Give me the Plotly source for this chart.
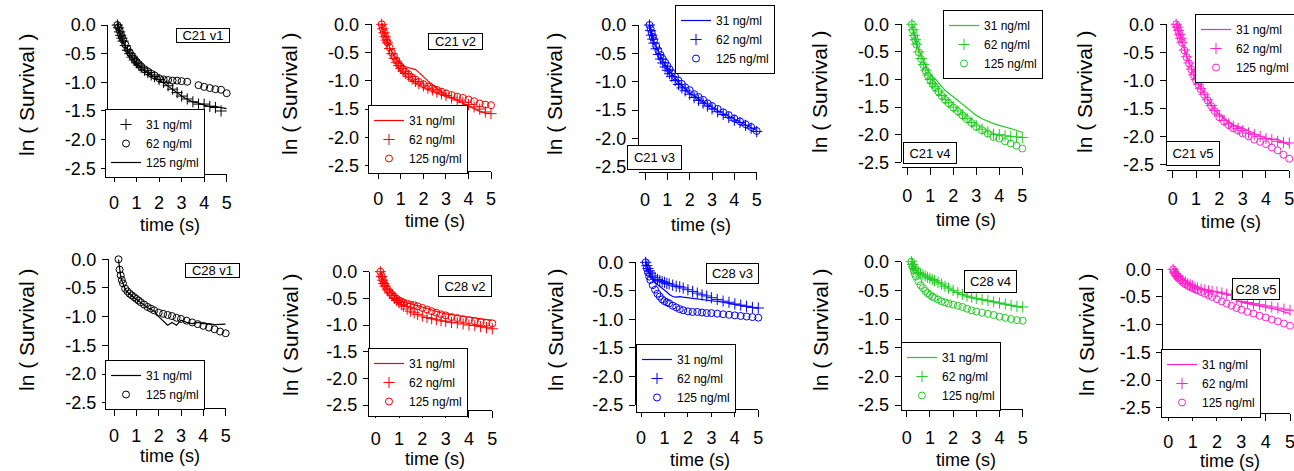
import plotly.graph_objects as go

W, H = 1294, 471

# ---------------- data ----------------
t_grid = [0.15, 0.2, 0.25, 0.3, 0.35, 0.4, 0.5, 0.6, 0.7, 0.8, 0.9, 1.0, 1.1, 1.2, 1.35, 1.5,
          1.65, 1.8, 2.0, 2.2, 2.4, 2.6, 2.8, 3.0, 3.25, 3.5, 3.75, 4.0, 4.25, 4.5, 4.75, 5.0]

ytick_vals = [0.0, -0.5, -1.0, -1.5, -2.0, -2.5]
ytick_text = ["0.0", "-0.5", "-1.0", "-1.5", "-2.0", "-2.5"]
xtick_vals = [0, 1, 2, 3, 4, 5]
xtick_text = ["0", "1", "2", "3", "4", "5"]

conc_labels = ["31 ng/ml", "62 ng/ml", "125 ng/ml"]
panel_names = ["C21 v1", "C21 v2", "C21 v3", "C21 v4", "C21 v5",
               "C28 v1", "C28 v2", "C28 v3", "C28 v4", "C28 v5"]
x_title = "time (s)"
y_title = "ln ( Survival )"

# C21 v1 (black)
c21v1_31 = [0, -0.05, -0.12, -0.18, -0.23, -0.28, -0.36, -0.44, -0.5, -0.56, -0.61, -0.66, -0.7, -0.74, -0.79, -0.83,
            -0.87, -0.9, -0.95, -1.0, -1.06, -1.12, -1.18, -1.24, -1.29, -1.34, -1.38, -1.38, -1.42, -1.44, -1.5, None]
c21v1_62 = [0, -0.04, -0.1, -0.16, -0.21, -0.26, -0.34, -0.42, -0.48, -0.54, -0.59, -0.64, -0.68, -0.72, -0.77, -0.81,
            -0.85, -0.88, -0.93, -0.95, -0.96, -0.97, -0.97, -0.98, -0.99, None, -1.05, -1.08, -1.1, -1.12, -1.13, -1.19]
c21v1_125 = [0, -0.06, -0.13, -0.19, -0.24, -0.29, -0.37, -0.45, -0.51, -0.57, -0.62, -0.67, -0.71, -0.75, -0.8, -0.84,
             -0.88, -0.91, -0.96, -1.01, -1.07, -1.13, -1.19, -1.24, -1.3, -1.34, -1.36, -1.4, -1.42, -1.42, -1.44, -1.46]
# C21 v2 (red)
c21v2_31 = [0, -0.06, -0.13, -0.2, -0.26, -0.31, -0.4, -0.48, -0.55, -0.61, -0.66, -0.7, -0.73, -0.75, -0.77, -0.78,
            -0.8, -0.85, -0.93, -1.0, -1.07, -1.13, -1.2, -1.25, -1.3, -1.35, -1.4, -1.45, -1.5, -1.54, -1.57, -1.58]
c21v2_62 = [0, -0.08, -0.15, -0.22, -0.28, -0.33, -0.43, -0.52, -0.6, -0.67, -0.73, -0.78, -0.83, -0.87, -0.92, -0.97,
            -1.01, -1.05, -1.09, -1.13, -1.16, -1.2, -1.23, -1.26, -1.3, -1.34, -1.38, -1.42, -1.46, -1.5, -1.55, -1.58]
c21v2_125 = [0, -0.07, -0.14, -0.21, -0.27, -0.32, -0.41, -0.5, -0.57, -0.64, -0.7, -0.75, -0.8, -0.84, -0.89, -0.94,
             -0.98, -1.02, -1.06, -1.1, -1.13, -1.16, -1.19, -1.22, -1.25, -1.28, -1.3, -1.33, -1.36, -1.4, -1.42, -1.43]
# C21 v3 (blue)
c21v3_31 = [None, 0, -0.08, -0.16, -0.23, -0.29, -0.39, -0.48, -0.56, -0.63, -0.7, -0.76, -0.82, -0.88, -0.95, -1.02,
            -1.08, -1.13, -1.2, -1.26, -1.31, -1.36, -1.41, -1.46, -1.51, -1.56, -1.61, -1.66, -1.71, -1.76, -1.81, -1.86]
c21v3_62 = [None, 0, -0.1, -0.18, -0.25, -0.32, -0.42, -0.52, -0.6, -0.67, -0.74, -0.8, -0.86, -0.91, -0.98, -1.05,
            -1.11, -1.16, -1.22, -1.28, -1.33, -1.38, -1.43, -1.48, -1.53, -1.58, -1.63, -1.68, -1.72, -1.77, -1.82, -1.88]
c21v3_125 = [None, 0, -0.07, -0.14, -0.21, -0.27, -0.37, -0.45, -0.53, -0.6, -0.66, -0.72, -0.78, -0.84, -0.91, -0.98,
             -1.04, -1.1, -1.15, -1.22, -1.27, -1.32, -1.38, -1.43, -1.48, -1.54, -1.59, -1.65, -1.7, -1.75, -1.8, -1.87]
# C21 v4 (green)
c21v4_31 = [None, 0, -0.09, -0.18, -0.26, -0.33, -0.46, -0.57, -0.67, -0.76, -0.84, -0.9, -0.95, -0.98, -1.06, -1.13,
            -1.2, -1.25, -1.31, -1.38, -1.45, -1.52, -1.59, -1.65, -1.71, -1.76, -1.8, -1.83, -1.86, -1.88, -1.92, -1.96]
c21v4_62 = [None, 0, -0.1, -0.2, -0.28, -0.36, -0.5, -0.62, -0.73, -0.83, -0.92, -1.0, -1.07, -1.13, -1.21, -1.29,
            -1.36, -1.42, -1.5, -1.57, -1.64, -1.71, -1.78, -1.84, -1.9, -1.95, -1.99, -2.0, -2.02, -2.03, -2.04, -2.05]
c21v4_125 = [None, 0, -0.11, -0.21, -0.29, -0.37, -0.51, -0.63, -0.74, -0.84, -0.93, -1.01, -1.08, -1.14, -1.22, -1.3,
             -1.37, -1.43, -1.51, -1.58, -1.65, -1.72, -1.79, -1.86, -1.92, -1.98, -2.04, -2.07, -2.12, -2.16, -2.2, -2.25]
# C21 v5 (magenta)
c21v5_31 = [0, -0.04, -0.1, -0.17, -0.24, -0.31, -0.45, -0.57, -0.68, -0.79, -0.89, -0.98, -1.06, -1.14, -1.24, -1.34,
            -1.44, -1.53, -1.62, -1.69, -1.75, -1.8, -1.82, -1.85, -1.9, -1.95, -2.0, -2.03, -2.05, -2.05, -2.1, -2.16]
c21v5_62 = [0, -0.05, -0.11, -0.18, -0.25, -0.32, -0.46, -0.58, -0.69, -0.8, -0.9, -0.99, -1.07, -1.15, -1.25, -1.35,
            -1.45, -1.54, -1.64, -1.72, -1.78, -1.82, -1.86, -1.9, -1.94, -1.97, -2.0, -2.04, -2.06, -2.09, -2.11, -2.12]
c21v5_125 = [0, -0.05, -0.12, -0.19, -0.26, -0.33, -0.47, -0.59, -0.7, -0.81, -0.91, -1.0, -1.08, -1.16, -1.26, -1.36,
             -1.46, -1.55, -1.66, -1.74, -1.8, -1.86, -1.9, -1.95, -2.0, -2.06, -2.1, -2.14, -2.2, -2.25, -2.33, -2.4]
# C28 v1 (black)
c28v1_31 = [None, 0, -0.2, -0.3, -0.37, -0.43, -0.52, -0.57, -0.61, -0.64, -0.67, -0.7, -0.73, -0.76, -0.8, -0.84,
            -0.87, -0.9, -1.0, -1.08, -1.15, -1.1, -1.15, -1.06, -1.1, -1.12, -1.1, -1.12, -1.12, -1.14, -1.13, -1.13]
c28v1_125 = [None, 0, -0.18, -0.28, -0.36, -0.42, -0.51, -0.56, -0.6, -0.63, -0.66, -0.69, -0.72, -0.75, -0.79, -0.83,
             -0.86, -0.89, -0.93, -0.95, -0.97, -0.99, -1.02, -1.04, -1.07, -1.1, -1.13, -1.16, -1.19, -1.22, -1.26, -1.29]
# C28 v2 (red)
c28v2_31 = [None, 0, -0.07, -0.14, -0.2, -0.25, -0.32, -0.37, -0.42, -0.46, -0.5, -0.53, -0.55, -0.57, -0.59, -0.6,
            -0.62, -0.64, -0.67, -0.7, -0.72, -0.75, -0.77, -0.79, -0.81, -0.83, -0.84, -0.85, -0.87, -0.88, -0.9, -0.91]
c28v2_62 = [None, 0, -0.09, -0.16, -0.22, -0.27, -0.34, -0.4, -0.45, -0.5, -0.54, -0.58, -0.62, -0.65, -0.7, -0.74,
            -0.77, -0.8, -0.83, -0.86, -0.88, -0.9, -0.92, -0.93, -0.95, -0.96, -0.98, -1.0, -1.01, -1.03, -1.05, -1.07]
c28v2_125 = [None, 0, -0.08, -0.15, -0.21, -0.26, -0.33, -0.38, -0.43, -0.47, -0.51, -0.54, -0.56, -0.58, -0.6, -0.62,
             -0.63, -0.65, -0.68, -0.71, -0.74, -0.77, -0.8, -0.82, -0.85, -0.87, -0.89, -0.91, -0.93, -0.95, -0.96, -0.97]
# C28 v3 (blue)
c28v3_31 = [None, 0, -0.08, -0.14, -0.19, -0.23, -0.3, -0.35, -0.39, -0.42, -0.45, -0.48, -0.52, -0.56, -0.6, -0.61,
            -0.6, -0.61, -0.62, -0.63, -0.64, -0.65, -0.66, -0.67, -0.68, -0.7, -0.72, -0.74, -0.76, -0.78, -0.8, -0.81]
c28v3_62 = [None, 0, -0.06, -0.11, -0.15, -0.19, -0.24, -0.27, -0.3, -0.32, -0.34, -0.35, -0.37, -0.38, -0.4, -0.42,
            -0.43, -0.45, -0.48, -0.51, -0.54, -0.57, -0.59, -0.62, -0.65, -0.68, -0.7, -0.73, -0.75, -0.77, -0.79, -0.8]
c28v3_125 = [None, 0, -0.1, -0.18, -0.25, -0.31, -0.4, -0.48, -0.55, -0.6, -0.65, -0.68, -0.7, -0.72, -0.76, -0.79,
             -0.82, -0.84, -0.86, -0.87, -0.87, -0.88, -0.89, -0.89, -0.9, -0.91, -0.92, -0.93, -0.94, -0.95, -0.96, -0.97]
# C28 v4 (green)
c28v4_31 = [None, 0, -0.04, -0.08, -0.11, -0.14, -0.18, -0.2, -0.22, -0.24, -0.26, -0.28, -0.3, -0.32, -0.35, -0.38,
            -0.42, -0.46, -0.51, -0.55, -0.58, -0.61, -0.63, -0.65, -0.67, -0.69, -0.71, -0.73, -0.75, -0.77, -0.79, -0.8]
c28v4_62 = [None, 0, -0.05, -0.09, -0.12, -0.15, -0.19, -0.21, -0.23, -0.25, -0.27, -0.29, -0.31, -0.33, -0.36, -0.39,
            -0.43, -0.46, -0.5, -0.54, -0.57, -0.6, -0.62, -0.64, -0.66, -0.68, -0.7, -0.72, -0.74, -0.76, -0.78, -0.79]
c28v4_125 = [None, 0, -0.08, -0.15, -0.21, -0.26, -0.34, -0.41, -0.46, -0.51, -0.55, -0.58, -0.61, -0.63, -0.66, -0.69,
             -0.71, -0.73, -0.75, -0.77, -0.79, -0.82, -0.85, -0.87, -0.89, -0.91, -0.93, -0.96, -0.98, -1.0, -1.02, -1.03]
# C28 v5 (magenta)
c28v5_31 = [None, 0, -0.04, -0.07, -0.1, -0.12, -0.16, -0.19, -0.22, -0.25, -0.27, -0.29, -0.31, -0.33, -0.35, -0.36,
            -0.38, -0.39, -0.41, -0.42, -0.44, -0.47, -0.53, -0.6, -0.62, -0.64, -0.66, -0.68, -0.71, -0.73, -0.77, -0.8]
c28v5_62 = [None, 0, -0.05, -0.08, -0.11, -0.13, -0.17, -0.2, -0.23, -0.26, -0.28, -0.3, -0.32, -0.34, -0.36, -0.37,
            -0.39, -0.4, -0.41, -0.43, -0.45, -0.47, -0.52, -0.58, -0.6, -0.62, -0.64, -0.66, -0.68, -0.7, -0.72, -0.74]
c28v5_125 = [None, 0, -0.05, -0.09, -0.13, -0.16, -0.2, -0.24, -0.27, -0.3, -0.32, -0.34, -0.36, -0.38, -0.41, -0.44,
             -0.47, -0.5, -0.54, -0.58, -0.62, -0.66, -0.7, -0.73, -0.77, -0.8, -0.84, -0.87, -0.91, -0.94, -0.98, -1.02]

BLACK, RED, BLUE, GREEN, MAGENTA = "#000000", "#ff0000", "#0000ff", "#22cc22", "#ff22cc"
FONT = "Arial, Liberation Sans, sans-serif"

# ---------------- layout table (pixel geometry) ----------------
# geom: (px of x=0, px of x=5, py of y=0, py of y=-2.5, py of x-axis line, px of y-axis line)
panels = [
    dict(name=panel_names[0], color=BLACK,
         series=[(conc_labels[0], c21v1_31, "plus"), (conc_labels[1], c21v1_62, "circle"), (conc_labels[2], c21v1_125, "line")],
         geom=(114, 226.7, 25, 168.3, 174, 108.3), legend=(105, 109), note=(203, 35.5, 54, 15),
         ylab=(27, 95), xlab=(170, 225)),
    dict(name=panel_names[1], color=RED,
         series=[(conc_labels[0], c21v2_31, "line"), (conc_labels[1], c21v2_62, "plus"), (conc_labels[2], c21v2_125, "circle")],
         geom=(378.3, 491, 24.3, 165.7, 170.7, 371.7), legend=(368, 105), note=(455.5, 41.5, 55, 17),
         ylab=(290, 94), xlab=(435, 221)),
    dict(name=panel_names[2], color=BLUE,
         series=[(conc_labels[0], c21v3_31, "line"), (conc_labels[1], c21v3_62, "plus"), (conc_labels[2], c21v3_125, "circle")],
         geom=(645, 756.7, 25, 166.7, 171.7, 639), legend=(675, 5), note=(654, 157.5, 55, 25),
         ylab=(555, 94), xlab=(701, 225)),
    dict(name=panel_names[3], color=GREEN,
         series=[(conc_labels[0], c21v4_31, "line"), (conc_labels[1], c21v4_62, "plus"), (conc_labels[2], c21v4_125, "circle")],
         geom=(907.3, 1022.3, 24.3, 162.3, 167.3, 901.7), legend=(943, 10), note=(930, 153, 54, 22),
         ylab=(820, 92), xlab=(966, 220)),
    dict(name=panel_names[4], color=MAGENTA,
         series=[(conc_labels[0], c21v5_31, "line"), (conc_labels[1], c21v5_62, "plus"), (conc_labels[2], c21v5_125, "circle")],
         geom=(1172.7, 1289.3, 24.3, 164.3, 170, 1166.7), legend=(1195, 14), note=(1193, 154, 54, 25),
         ylab=(1085, 92), xlab=(1231, 222)),
    dict(name=panel_names[5], color=BLACK,
         series=[(conc_labels[0], c28v1_31, "line"), (conc_labels[2], c28v1_125, "circle")],
         geom=(114, 225.7, 259.3, 402.7, 407.7, 109), legend=(105, 360), note=(212.5, 270.8, 55, 15),
         ylab=(26, 330), xlab=(170, 456)),
    dict(name=panel_names[6], color=RED,
         series=[(conc_labels[0], c28v2_31, "line"), (conc_labels[1], c28v2_62, "plus"), (conc_labels[2], c28v2_125, "circle")],
         geom=(375.7, 492.3, 271.7, 405, 410, 370), legend=(368, 348), note=(465, 286, 54, 22),
         ylab=(290, 335), xlab=(435, 459)),
    dict(name=panel_names[7], color=BLUE,
         series=[(conc_labels[0], c28v3_31, "line"), (conc_labels[1], c28v3_62, "plus"), (conc_labels[2], c28v3_125, "circle")],
         geom=(641, 758.3, 262.3, 405, 409, 636), legend=(636, 344), note=(732, 273.8, 53, 21),
         ylab=(555, 330), xlab=(700, 460)),
    dict(name=panel_names[8], color=GREEN,
         series=[(conc_labels[0], c28v4_31, "line"), (conc_labels[1], c28v4_62, "plus"), (conc_labels[2], c28v4_125, "circle")],
         geom=(906.7, 1022.7, 261.7, 405, 409, 901.7), legend=(901, 342), note=(990, 281.7, 53, 23),
         ylab=(820, 330), xlab=(966, 460)),
    dict(name=panel_names[9], color=MAGENTA,
         series=[(conc_labels[0], c28v5_31, "line"), (conc_labels[1], c28v5_62, "plus"), (conc_labels[2], c28v5_125, "circle")],
         geom=(1168.3, 1290, 269.3, 407.7, 413.3, 1163.3), legend=(1161, 349), note=(1255.8, 289, 48, 22),
         ylab=(1086, 335), xlab=(1230, 461)),
]

fig = go.Figure()
layout = {}
annotations = []

for i, p in enumerate(panels, start=1):
    sfx = "" if i == 1 else str(i)
    xname, yname, lname = "x" + sfx, "y" + sfx, "legend" + sfx
    col = p["color"]
    for label, vals, style in p["series"]:
        common = dict(x=t_grid, y=vals, name=label, xaxis=xname, yaxis=yname,
                      legend=lname, cliponaxis=False, connectgaps=False,
                      legendgroup="g%d_%s" % (i, label))
        if style == "line":
            tr = go.Scatter(mode="lines", line=dict(color=col, width=1.2),
                            marker=dict(color=col), **common)
        elif style == "plus":
            tr = go.Scatter(mode="markers",
                            marker=dict(symbol="cross-thin-open", size=8, color=col,
                                        line=dict(color=col, width=1)), **common)
        else:
            tr = go.Scatter(mode="markers",
                            marker=dict(symbol="circle-open", size=7, color=col,
                                        line=dict(color=col, width=1)), **common)
        fig.add_trace(tr)

    x0, x5, y0, y25, xline, yline = p["geom"]
    sx = (x5 - x0) / 5.0
    xmin = (yline - x0) / sx
    layout["xaxis" + sfx] = dict(
        domain=[yline / W, x5 / W], range=[xmin, 5.0], anchor="free", position=1 - xline / H,
        showline=True, linecolor="black", linewidth=1, ticks="outside", ticklen=7, tickwidth=1,
        tickcolor="black", showgrid=False, zeroline=False, tickmode="array",
        tickvals=xtick_vals, ticktext=xtick_text, ticklabelstandoff=5, ticklabeloverflow="allow",
        tickfont=dict(family=FONT, size=18, color="black"))
    layout["yaxis" + sfx] = dict(
        domain=[1 - y25 / H, 1 - y0 / H], range=[-2.5, 0.0], anchor=xname,
        showline=True, linecolor="black", linewidth=1, ticks="outside", ticklen=6, tickwidth=1,
        tickcolor="black", showgrid=False, zeroline=False, tickmode="array",
        tickvals=ytick_vals, ticktext=ytick_text, ticklabelstandoff=2, ticklabeloverflow="allow",
        tickfont=dict(family=FONT, size=18, color="black"))
    lx, ly = p["legend"]
    layout[lname] = dict(x=lx / W, y=1 - ly / H, xanchor="left", yanchor="top",
                         bgcolor="white", bordercolor="black", borderwidth=1,
                         font=dict(family=FONT, size=12, color="black"),
                         traceorder="normal", itemwidth=30, tracegroupgap=0)
    cx, cy, bw, bh = p["note"]
    annotations.append(dict(text=p["name"], x=cx / W, y=1 - cy / H, xref="paper", yref="paper",
                            xanchor="center", yanchor="middle", showarrow=False,
                            width=bw - 4, height=bh - 4, borderpad=1,
                            bordercolor="black", borderwidth=1, bgcolor="white",
                            font=dict(family=FONT, size=13, color="black")))
    ycx, ycy = p["ylab"]
    annotations.append(dict(text=y_title, x=ycx / W, y=1 - ycy / H, xref="paper", yref="paper",
                            xanchor="center", yanchor="middle", showarrow=False, textangle=-90,
                            font=dict(family=FONT, size=21, color="black")))
    xcx, xcy = p["xlab"]
    annotations.append(dict(text=x_title, x=xcx / W, y=1 - xcy / H, xref="paper", yref="paper",
                            xanchor="center", yanchor="middle", showarrow=False,
                            font=dict(family=FONT, size=18, color="black")))

fig.update_layout(**layout)
fig.update_layout(width=W, height=H, margin=dict(l=0, r=0, t=0, b=0, autoexpand=False),
                  paper_bgcolor="white", plot_bgcolor="white", showlegend=True,
                  hovermode=False, annotations=annotations, font=dict(family=FONT))

fig.write_html("out.html", config={"displayModeBar": False, "staticPlot": True},
               post_script="document.body.style.margin='0px';document.body.style.overflow='hidden';")
